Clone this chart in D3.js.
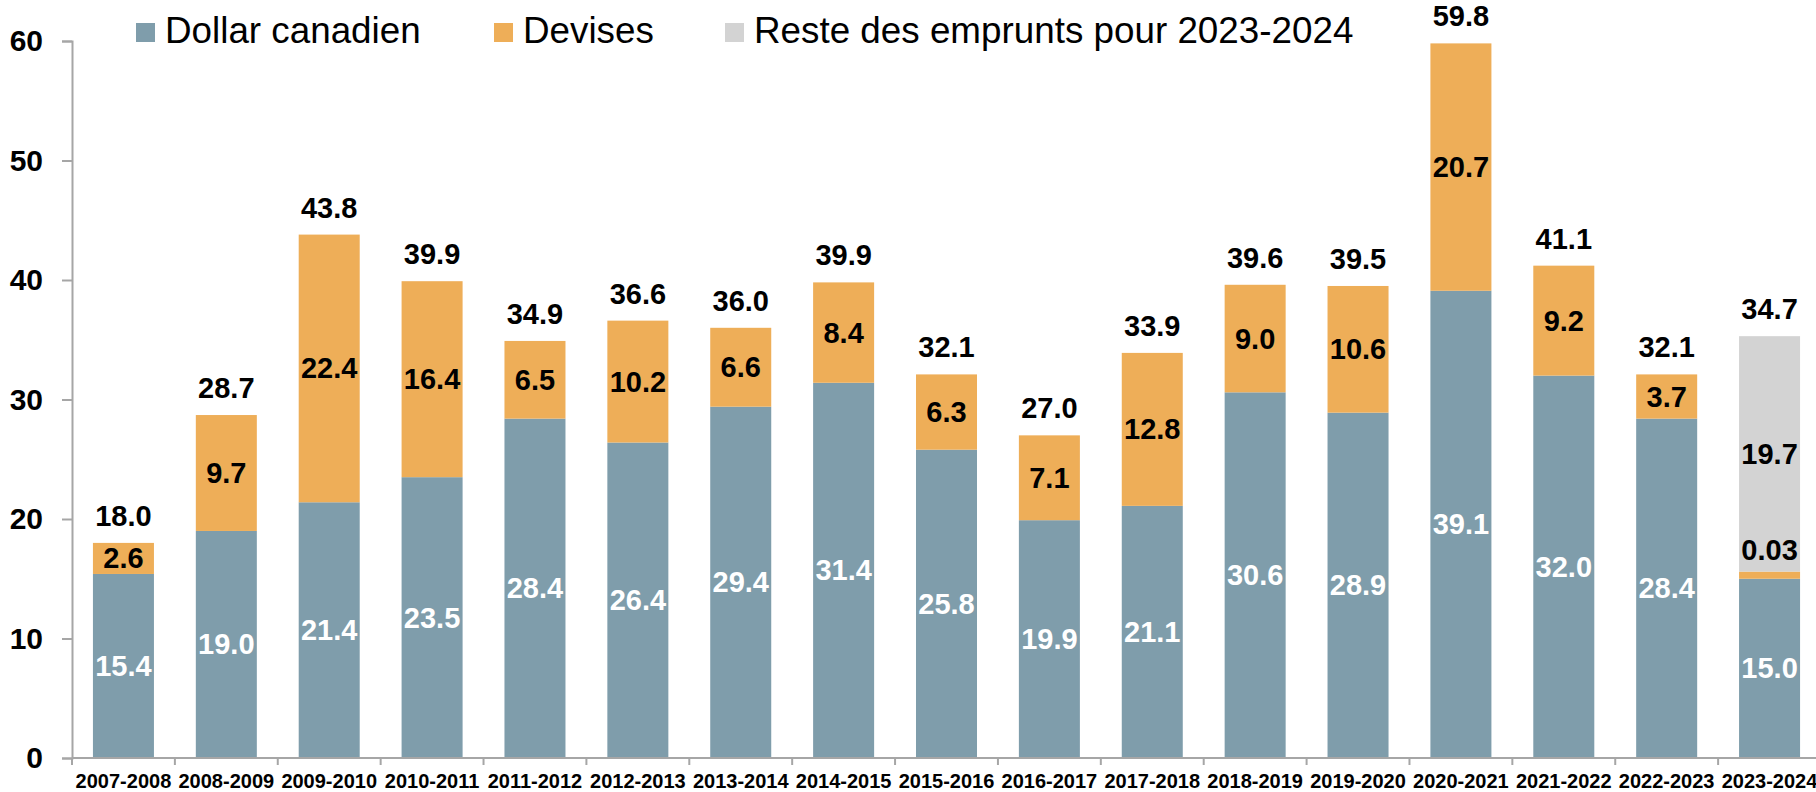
<!DOCTYPE html>
<html>
<head>
<meta charset="utf-8">
<script src="https://cdn.jsdelivr.net/npm/d3@7"></script>
<style>
  body { margin: 0; background: #fff; }
  svg { display: block; font-family: "Liberation Sans", Arial, sans-serif; }
</style>
</head>
<body>
<svg width="1816" height="792"></svg>
<script>
var years = ["2007-2008", "2008-2009", "2009-2010", "2010-2011", "2011-2012", "2012-2013",
  "2013-2014", "2014-2015", "2015-2016", "2016-2017", "2017-2018", "2018-2019",
  "2019-2020", "2020-2021", "2021-2022", "2022-2023", "2023-2024"];
var dollar = [15.4, 19.0, 21.4, 23.5, 28.4, 26.4, 29.4, 31.4, 25.8, 19.9, 21.1, 30.6, 28.9, 39.1, 32.0, 28.4, 15.0];
var devises = [2.6, 9.7, 22.4, 16.4, 6.5, 10.2, 6.6, 8.4, 6.3, 7.1, 12.8, 9.0, 10.6, 20.7, 9.2, 3.7, 0.6];
var devisesLabels = ["2.6", "9.7", "22.4", "16.4", "6.5", "10.2", "6.6", "8.4", "6.3", "7.1", "12.8", "9.0", "10.6", "20.7", "9.2", "3.7", "0.03"];
var reste = [0, 0, 0, 0, 0, 0, 0, 0, 0, 0, 0, 0, 0, 0, 0, 0, 19.7];
var totals = [18.0, 28.7, 43.8, 39.9, 34.9, 36.6, 36.0, 39.9, 32.1, 27.0, 33.9, 39.6, 39.5, 59.8, 41.1, 32.1, 34.7];
var yTicks = [0, 10, 20, 30, 40, 50, 60];
var seriesNames = ["Dollar canadien", "Devises", "Reste des emprunts pour 2023-2024"];
var colors = ["#7f9dab", "#eeae58", "#d3d3d3"];
var labelColors = ["#fff", "#000", "#000"];
var legendX = [136, 494, 725];

var svg = d3.select("svg");
var fmt = d3.format(".1f");

var x = d3.scaleBand()
  .domain(years)
  .range([72, 1821])
  .paddingInner(0.407)
  .paddingOuter(0.2035);

var y = d3.scaleLinear()
  .domain([0, 60])
  .range([758, 41]);

var rows = years.map(function(yr, i) {
  return { year: yr, dollar: dollar[i], devises: devises[i], reste: reste[i], i: i };
});
var stack = d3.stack().keys(["dollar", "devises", "reste"]);
var series = stack(rows);

// bars
var layer = svg.selectAll(".layer")
  .data(series)
  .enter().append("g")
  .attr("class", "layer")
  .attr("fill", function(d, i) { return colors[i]; });

layer.selectAll("rect")
  .data(function(d) { return d; })
  .enter().append("rect")
  .filter(function(d) { return d[1] - d[0] > 0; })
  .attr("x", function(d) { return x(d.data.year); })
  .attr("width", x.bandwidth())
  .attr("y", function(d) { return y(d[1]); })
  .attr("height", function(d) { return y(d[0]) - y(d[1]); });

// segment labels
series.forEach(function(s, k) {
  svg.append("g")
    .selectAll("text")
    .data(s.filter(function(d) { return d[1] - d[0] > 0; }))
    .enter().append("text")
    .attr("x", function(d) { return x(d.data.year) + x.bandwidth() / 2; })
    .attr("y", function(d) {
      var h = y(d[0]) - y(d[1]);
      if (h < 20) return y(d[1]) - 12;
      return (y(d[0]) + y(d[1])) / 2 + 10;
    })
    .attr("text-anchor", "middle")
    .attr("font-size", 29)
    .attr("font-weight", "bold")
    .attr("fill", labelColors[k])
    .text(function(d) {
      if (k == 1) return devisesLabels[d.data.i];
      return fmt(d[1] - d[0]);
    });
});

// totals
svg.append("g")
  .selectAll("text")
  .data(rows)
  .enter().append("text")
  .attr("x", function(d) { return x(d.year) + x.bandwidth() / 2; })
  .attr("y", function(d) { return y(d.dollar + d.devises + d.reste) - 17; })
  .attr("text-anchor", "middle")
  .attr("font-size", 29)
  .attr("font-weight", "bold")
  .attr("fill", "#000")
  .text(function(d) { return fmt(totals[d.i]); });

// y axis
var yAxis = svg.append("g")
  .attr("transform", "translate(72,0)")
  .call(d3.axisLeft(y).tickValues(yTicks).tickSize(10).tickPadding(19).tickFormat(d3.format("d")));
yAxis.select(".domain").attr("stroke", "#a6a6a6").attr("stroke-width", 2);
yAxis.selectAll(".tick line").attr("stroke", "#a6a6a6").attr("stroke-width", 2);
yAxis.selectAll(".tick text")
  .attr("font-size", 30)
  .attr("font-weight", "bold")
  .attr("font-family", "Liberation Sans, Arial, sans-serif")
  .attr("fill", "#000");

// x axis
var xAxis = svg.append("g")
  .attr("transform", "translate(0," + y(0) + ")");
xAxis.append("line")
  .attr("x1", x.range()[0])
  .attr("x2", 1816)
  .attr("stroke", "#a6a6a6")
  .attr("stroke-width", 2);
xAxis.selectAll(".xtick")
  .data(d3.range(years.length + 1))
  .enter().append("line")
  .attr("x1", function(i) { return x.range()[0] + i * x.step(); })
  .attr("x2", function(i) { return x.range()[0] + i * x.step(); })
  .attr("y1", 0)
  .attr("y2", 7)
  .attr("stroke", "#a6a6a6")
  .attr("stroke-width", 2);
xAxis.selectAll(".xlabel")
  .data(years)
  .enter().append("text")
  .attr("x", function(d) { return x(d) + x.bandwidth() / 2; })
  .attr("y", 30)
  .attr("text-anchor", "middle")
  .attr("font-size", 20)
  .attr("font-weight", "bold")
  .attr("fill", "#000")
  .text(function(d) { return d; });

// legend
seriesNames.forEach(function(name, i) {
  svg.append("rect")
    .attr("x", legendX[i])
    .attr("y", 23)
    .attr("width", 19)
    .attr("height", 19)
    .attr("fill", colors[i]);
  svg.append("text")
    .attr("x", legendX[i] + 29)
    .attr("y", 43)
    .attr("font-size", 36.8)
    .attr("fill", "#000")
    .text(name);
});
</script>
</body>
</html>
